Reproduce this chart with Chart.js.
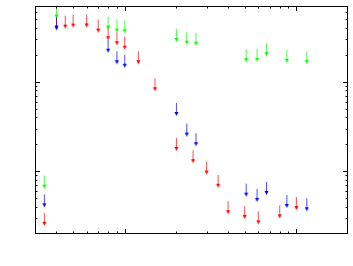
<!DOCTYPE html>
<html lang="en">
<head>
  <meta charset="UTF-8">
  <title>Upper limits</title>
  <script src="https://cdn.jsdelivr.net/npm/chart.js"></script>
  <style>
    html, body { margin: 0; padding: 0; background: #fff; }
  </style>
</head>
<body>
  <canvas id="chart" width="353" height="266"></canvas>
  <script>
    // values (upper limits, log-log)
    const redX   = [0.34, 0.40, 0.45, 0.50, 0.60, 0.70, 0.80, 0.90, 1.0, 1.2, 1.5, 2.0, 2.5, 3.0, 3.5, 4.0, 5.0, 6.0, 8.0, 10.0];
    const redY   = [0.26, 40.5, 41.2, 42.3, 42.5, 37.2, 30.6, 26.9, 24.0, 16.5, 8.25, 1.78, 1.30, 0.97, 0.69, 0.35, 0.31, 0.27, 0.315, 0.39];
    const greenX = [0.34, 0.40, 0.80, 0.90, 1.0, 2.0, 2.3, 2.6, 5.1, 5.9, 6.7, 8.8, 11.5];
    const greenY = [0.675, 53.3, 40.2, 37.2, 36.6, 29.3, 27.3, 26.6, 17.4, 17.6, 20.3, 17.1, 16.6];
    const blueX  = [0.34, 0.40, 0.80, 0.90, 1.0, 2.0, 2.3, 2.6, 5.1, 5.9, 6.7, 8.8, 11.5];
    const blueY  = [0.418, 39.5, 22.2, 16.5, 15.1, 4.37, 2.57, 2.01, 0.55, 0.48, 0.574, 0.411, 0.378];

    const xMin = 0.3, xMax = 20;
    const yMin = 0.2, yMax = 70;

    function arrow(color) {
      const c = document.createElement('canvas');
      c.width = 7;
      c.height = 26;
      const g = c.getContext('2d');
      g.strokeStyle = color;
      g.globalAlpha = 0.7;
      g.lineWidth = 1;
      g.beginPath();
      g.moveTo(3.5, 2);
      g.lineTo(3.5, 12);
      g.stroke();
      g.globalAlpha = 1;
      g.fillStyle = color;
      g.beginPath();
      g.moveTo(1.5, 11);
      g.lineTo(5.5, 11);
      g.lineTo(3.5, 15);
      g.closePath();
      g.fill();
      return c;
    }

    function points(xs, ys) {
      return xs.map((x, i) => ({ x: x, y: ys[i] }));
    }

    // tick values at 1..9 x 10^k inside [lo, hi]
    function logTicks(lo, hi) {
      const out = [];
      for (let e = Math.floor(Math.log10(lo)); e <= Math.ceil(Math.log10(hi)); e++) {
        for (let m = 1; m < 10; m++) {
          const v = m * Math.pow(10, e);
          if (v > lo * 1.0001 && v < hi * 0.9999) out.push({ v: v, major: m === 1 });
        }
      }
      return out;
    }

    const frame = {
      id: 'frame',
      afterDraw(chart) {
        const { ctx, chartArea: a, scales } = chart;
        ctx.save();
        ctx.strokeStyle = '#000';
        ctx.lineWidth = 1;
        ctx.beginPath();
        logTicks(xMin, xMax).forEach(t => {
          const px = Math.round(scales.x.getPixelForValue(t.v)) + 0.5;
          const len = t.major ? 5 : 2.5;
          ctx.moveTo(px, a.bottom); ctx.lineTo(px, a.bottom - len);
          ctx.moveTo(px, a.top); ctx.lineTo(px, a.top + len);
        });
        logTicks(yMin, yMax).forEach(t => {
          const py = Math.round(scales.y.getPixelForValue(t.v)) + 0.5;
          const len = t.major ? 5 : 2.5;
          ctx.moveTo(a.left, py); ctx.lineTo(a.left + len, py);
          ctx.moveTo(a.right, py); ctx.lineTo(a.right - len, py);
        });
        ctx.stroke();
        ctx.strokeRect(a.left + 0.5, a.top + 0.5, a.right - a.left - 1, a.bottom - a.top - 1);
        ctx.restore();
      }
    };

    // first dataset is drawn on top: blue, then green, then red
    new Chart(document.getElementById('chart'), {
      type: 'scatter',
      data: {
        datasets: [
          { data: points(blueX, blueY), pointStyle: arrow('#0000ff'), pointRadius: 3 },
          { data: points(greenX, greenY), pointStyle: arrow('#00ff00'), pointRadius: 3 },
          { data: points(redX, redY), pointStyle: arrow('#ff0000'), pointRadius: 3 }
        ]
      },
      options: {
        responsive: false,
        animation: false,
        clip: false,
        layout: { padding: { left: 35, top: 6, right: 2, bottom: 32 } },
        plugins: { legend: { display: false }, tooltip: { enabled: false } },
        scales: {
          x: { type: 'logarithmic', min: xMin, max: xMax, display: false },
          y: { type: 'logarithmic', min: yMin, max: yMax, display: false }
        }
      },
      plugins: [frame]
    });
  </script>
</body>
</html>
